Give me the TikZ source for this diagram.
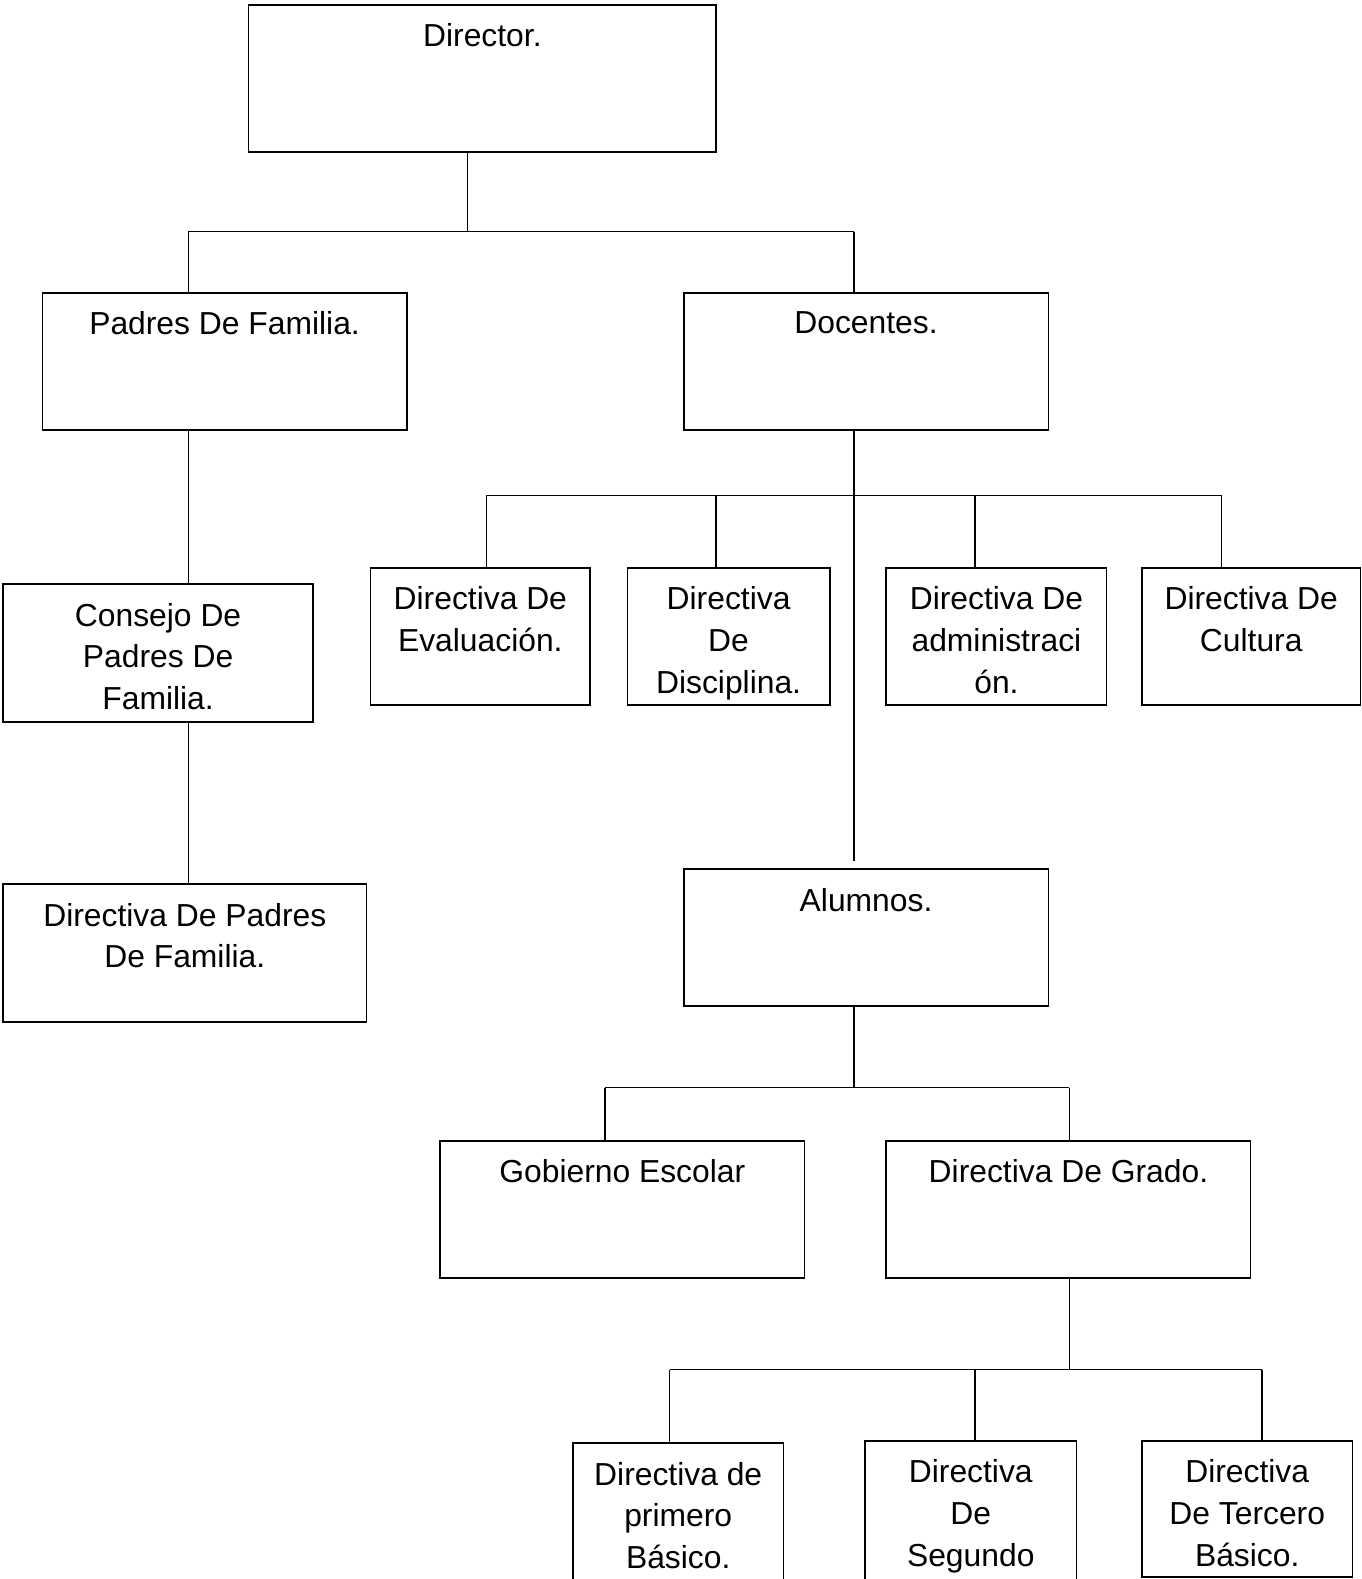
\documentclass[tikz,border=0pt]{standalone}
\usepackage{fontspec}
\setmainfont{Liberation Sans}
\usetikzlibrary{positioning}
\tikzset{
  Caja/.style 2 args={draw, line width=1.5pt, rectangle, anchor=north west,
    inner sep=0pt, outer sep=0pt, minimum width=#1, minimum height=#2}, % Kästen
  Texto/.style={anchor=north, align=center, inner sep=0pt, yshift=-18pt,
    font=\fontsize{31.6}{41.5}\selectfont}, % Beschriftung oben im Kasten
  Linea/.style={line width=1.5pt} % Verbindungslinien
}

\begin{document}
\begin{tikzpicture}[x=1pt, y=-1pt, Linea]
\useasboundingbox (0,0) rectangle (1352,1568);

%Kaesten
\node[Caja={464pt}{146pt}, label={[Texto]north:{Director.}}] (dir) at (247,5) {};
\node[Caja={362pt}{136pt}, label={[Texto]north:{Padres De Familia.}}] (padres) at (42,291) {};
\node[Caja={362pt}{136pt}, label={[Texto]north:{Docentes.}}] (docentes) at (679,291) {};
\node[Caja={308pt}{137pt}, label={[Texto]north:{Consejo De\\Padres De\\Familia.}}] (consejo) at (3,580) {};
\node[Caja={361pt}{137pt}, label={[Texto]north:{Directiva De Padres\\De Familia.}}] (dirpadres) at (3,878) {};

\node[Caja={218pt}{136pt}, label={[Texto]north:{Directiva De\\Evaluación.}}] (eval) at (368,564) {};
\node[Caja={201pt}{136pt}, label={[Texto]north:{Directiva\\De\\Disciplina.}}] (disc) at (623,564) {};
\node[Caja={219pt}{136pt}, label={[Texto]north:{Directiva De\\administraci\\ón.}}] (admin) at (880,564) {};
\node[Caja={217pt}{136pt}, label={[Texto]north:{Directiva De\\Cultura}}] (cultura) at (1134,564) {};

\node[Caja={362pt}{136pt}, label={[Texto]north:{Alumnos.}}] (alumnos) at (679,863) {};
\node[Caja={362pt}{136pt}, label={[Texto]north:{Gobierno Escolar}}] (gobierno) at (437,1133) {};
\node[Caja={362pt}{136pt}, label={[Texto]north:{Directiva De Grado.}}] (grado) at (880,1133) {};

\node[Caja={209pt}{150pt}, label={[Texto]north:{Directiva de\\primero\\Básico.}}] (primero) at (569,1433) {};
\node[Caja={210pt}{150pt}, label={[Texto]north:{Directiva\\De\\Segundo}}] (segundo) at (859,1431) {};
\node[Caja={209pt}{135pt}, label={[Texto]north:{Directiva\\De Tercero\\Básico.}}] (tercero) at (1134,1431) {};

%Knotenpunkte
\coordinate (b1) at (464,230);
\coordinate (b1l) at (187,230);
\coordinate (b1r) at (848,230);
\coordinate (b2l) at (483,492);
\coordinate (b2r) at (1213,492);
\coordinate (d1) at (848,855);
\coordinate (b3) at (848,1080);
\coordinate (b3l) at (601,1080);
\coordinate (b3r) at (1062,1080);
\coordinate (b4) at (1062,1360);
\coordinate (b4l) at (665,1360);
\coordinate (b4r) at (1253,1360);

%Leitungen
\draw (dir.south -| b1) -- (b1);
\draw (b1l) -- (b1r);
\draw (b1l) -- (b1l |- padres.north);
\draw (b1r) -- (b1r |- docentes.north);

\draw (padres.south -| b1l) -- (consejo.north -| b1l);
\draw (consejo.south -| b1l) -- (dirpadres.north -| b1l);

\draw (docentes.south -| b1r) -- (d1);
\draw (b2l) -- (b2r);
\foreach \x/\n in {483/eval,711/disc,968/admin,1213/cultura}{
  \coordinate (t\n) at (\x,492);
  \draw (t\n) -- (t\n |- \n.north);
}

\draw (alumnos.south -| b3) -- (b3);
\draw (b3l) -- (b3r);
\draw (b3l) -- (b3l |- gobierno.north);
\draw (b3r) -- (b3r |- grado.north);

\draw (grado.south -| b4) -- (b4);
\draw (b4l) -- (b4r);
\foreach \x/\n in {665/primero,968/segundo,1253/tercero}{
  \coordinate (t\n) at (\x,1360);
  \draw (t\n) -- (t\n |- \n.north);
}

\end{tikzpicture}
\end{document}
